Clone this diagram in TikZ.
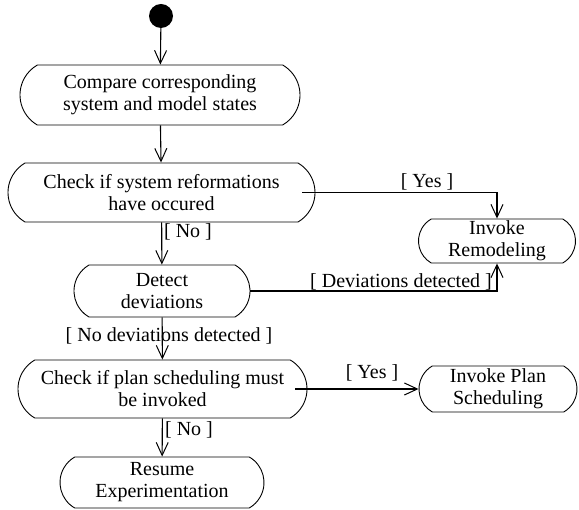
\documentclass[tikz,border=0pt]{standalone}
\usepackage{fontspec}
\setmainfont{Liberation Serif}
\usetikzlibrary{shapes.misc,arrows.meta}
\begin{document}
\begin{tikzpicture}[x=1pt,y=-1pt,
  act/.style={draw, line width=0.9pt, rounded rectangle, rounded rectangle arc length=120, align=center, inner sep=0pt, font=\fontsize{20}{22}\selectfont},
  lbl/.style={font=\fontsize{20}{22}\selectfont, inner sep=0pt},
  flow/.style={line width=1.1pt, -{Straight Barb[length=13pt,width=12pt,line width=1pt]}}]
\useasboundingbox (0,0) rectangle (579,510);
\node[circle, fill, minimum size=24pt, inner sep=0pt] (start) at (161,16) {};
\node[act, minimum width=280pt, minimum height=60pt] (cmp) at (160,95) {Compare corresponding\\system and model states};
\node[act, minimum width=307pt, minimum height=59pt] (chk) at (161.5,192.5) {Check if system reformations\\have occured};
\node[act, minimum width=157pt, minimum height=44pt] (rem) at (497,241) {Invoke\\Remodeling};
\node[act, minimum width=176pt, minimum height=52pt] (det) at (162,291) {Detect\\deviations};
\node[act, minimum width=289pt, minimum height=58pt] (plan) at (162.5,389) {Check if plan scheduling must\\be invoked};
\node[act, minimum width=158pt, minimum height=46pt] (sch) at (498,389) {Invoke Plan\\Scheduling};
\node[act, minimum width=204pt, minimum height=51pt] (res) at (162,482.5) {Resume\\Experimentation};

\draw[flow] (start) -- (cmp);
\draw[flow] (cmp) -- (chk);
\draw[flow] (chk) -- (det);
\draw[flow] ([xshift=-13pt]chk.east) -| (rem.north);
\draw[flow] (det.east) -| (rem.south);
\draw[flow] (det) -- (plan);
\draw[flow] ([xshift=-12pt]plan.east) -- (sch.west);
\draw[flow] (plan) -- (res);

\node[lbl] at (427,182) {[ Yes ]};
\node[lbl] at (401,282) {[ Deviations detected ]};
\node[lbl] at (188,232) {[ No ]};
\node[lbl] at (169,336) {[ No deviations detected ]};
\node[lbl] at (372,373) {[ Yes ]};
\node[lbl] at (189,430) {[ No ]};
\end{tikzpicture}
\end{document}
